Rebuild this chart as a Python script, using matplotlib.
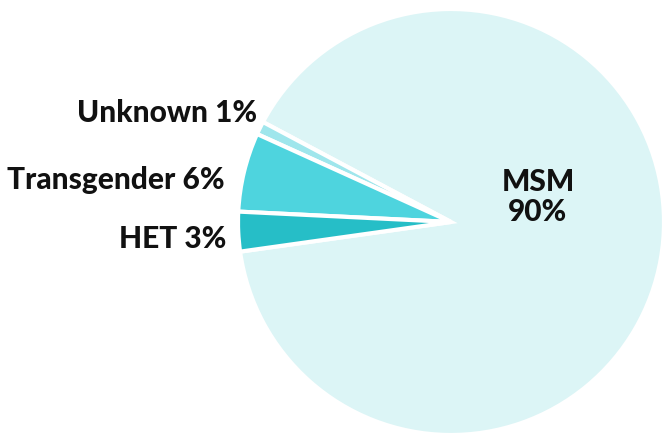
import matplotlib
matplotlib.use("Agg")
import matplotlib.pyplot as plt

categories = ["MSM", "Unknown", "Transgender", "HET"]
values = [90, 1, 6, 3]
colors = ["#DCF5F6", "#9FE6EC", "#4ED4DE", "#26BEC7"]

W, H = 663, 436
fig = plt.figure(figsize=(W / 100, H / 100), dpi=100)
cx, cy, r = 451, 222, 213
ax = fig.add_axes([(cx - r) / W, (H - cy - r) / H, 2 * r / W, 2 * r / H])
wedges, _ = ax.pie(values, colors=colors, startangle=188, counterclock=True,
                   radius=1, wedgeprops=dict(edgecolor="white", linewidth=3))
ax.set_xlim(-1, 1)
ax.set_ylim(-1, 1)
ax.set_aspect("equal")
ax.axis("off")

font = dict(family=["Lato", "DejaVu Sans"], fontweight="black", fontsize=21.5, color="#111111")
labels = [f"{c} {v}%" for c, v in zip(categories, values)]
ax.text(0.408, 0.117, f"{categories[0]}\n{values[0]}%", ha="center", va="center",
        linespacing=1.1, **font)
ax.text(-0.911, 0.512, labels[1], ha="right", va="center", **font)
ax.text(-1.061, 0.197, labels[2], ha="right", va="center", **font)
ax.text(-1.056, -0.080, labels[3], ha="right", va="center", **font)

fig.savefig("out.png", dpi=100)
